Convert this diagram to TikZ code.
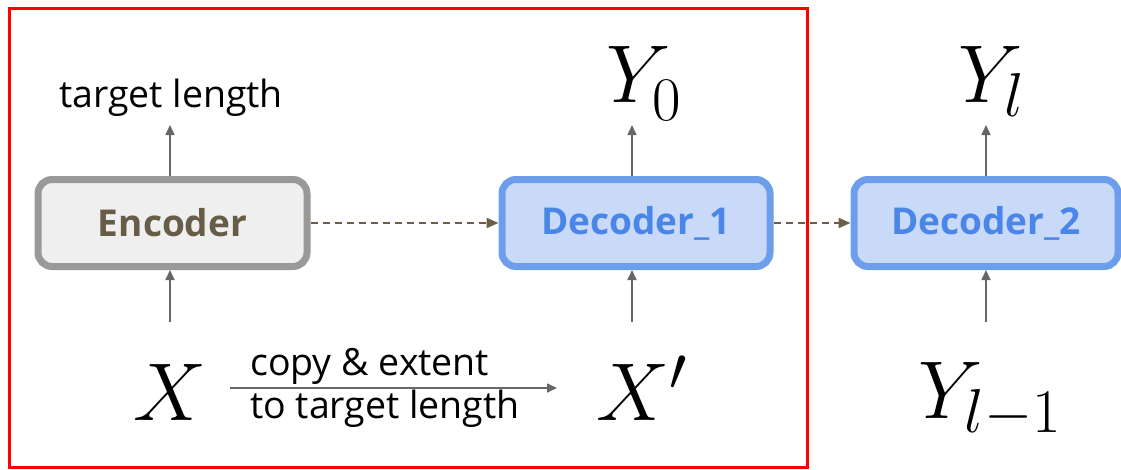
\RequirePackage{fix-cm}
\documentclass[tikz,border=0pt]{standalone}
\usepackage{fontspec}
\setmainfont{Open Sans}
\usetikzlibrary{arrows.meta}
\DeclareMathSizes{82}{82}{62}{48}

\definecolor{frame}{HTML}{FF0000}
\definecolor{encfill}{HTML}{EFEFEF}
\definecolor{encline}{HTML}{999999}
\definecolor{enctext}{HTML}{675C47}
\definecolor{decfill}{HTML}{C9DAF8}
\definecolor{decline}{HTML}{6D9EEB}
\definecolor{dectext}{HTML}{4A86E8}
\definecolor{arrgray}{HTML}{666666}
\definecolor{flowbrown}{HTML}{6B5E47}

\newcommand{\lowsub}[1]{\lower6pt\hbox{$\scriptstyle #1$}}

\tikzset{
  block/.style={rounded corners=14pt, line width=7pt, minimum height=87pt,
    inner sep=0pt, font=\fontsize{37}{40}\selectfont\bfseries},
  encblock/.style={block, draw=encline, fill=encfill, text=enctext},
  decblock/.style={block, draw=decline, fill=decfill, text=dectext},
  plain/.style={inner sep=0pt, font=\fontsize{37.5}{42}\selectfont},
  sym/.style={inner sep=0pt, anchor=base west, font=\fontsize{82}{90}\selectfont},
  uparrow/.style={draw=arrgray, line width=1.6pt,
    -{Triangle[length=10pt,width=9pt]}},
  flow/.style={draw=flowbrown, line width=2pt, dash pattern=on 7pt off 5pt,
    -{Triangle[length=12pt,width=10pt]}}
}

\begin{document}
\begin{tikzpicture}[x=1pt,y=-1pt]
\useasboundingbox (0,0) rectangle (1121,469);

% highlighted region around the first stage
\draw[frame, line width=3pt] (9,8) rectangle (807,467);

% processing blocks
\node[encblock, minimum width=269pt] (enc)  at (172.5,223) {Encoder};
\node[decblock, minimum width=268pt] (dec1) at (636,223) {Decoder\_1};
\node[decblock, minimum width=264pt] (dec2) at (986,223) {Decoder\_2};

% labels above the blocks
\node[plain, anchor=base] (tl) at (171,107) {target length};
\node[sym] (y0) at (606,102) {$Y_{\lowsub{0}}$};
\node[sym] (yl) at (958,102) {$Y_{l}$};

% inputs below the blocks
\node[sym] (x)  at (133,420) {$X$};
\node[sym] (xp) at (596,420) {$X'$};
\node[sym] (ylm) at (918,418) {$Y_{l-1}$};

% text of the copy step
\node[plain, anchor=base west] (cp1) at (250,375) {copy \& extent};
\node[plain, anchor=base west] (cp2) at (250,418) {to target length};

% arrow ends next to the labels
\coordinate (tlTip)  at (170,125);
\coordinate (y0Tip)  at (632,125);
\coordinate (ylTip)  at (986,125);
\coordinate (xTail)  at (170,322);
\coordinate (xpTail) at (632,322);
\coordinate (ylmTail) at (986,322);
\coordinate (cpTail) at (230,388);
\coordinate (cpTip)  at (557,388);

% vertical data flow
\draw[uparrow] (enc.north -| tlTip) -- (tlTip);
\draw[uparrow] (dec1.north -| y0Tip) -- (y0Tip);
\draw[uparrow] (dec2.north -| ylTip) -- (ylTip);
\draw[uparrow] (xTail) -- (enc.south -| xTail);
\draw[uparrow] (xpTail) -- (dec1.south -| xpTail);
\draw[uparrow] (ylmTail) -- (dec2.south -| ylmTail);

% copy & extent step
\draw[uparrow] (cpTail) -- (cpTip);

% state passed between blocks
\draw[flow] (enc.east) -- (dec1.west);
\draw[flow] (dec1.east) -- (dec2.west);
\end{tikzpicture}
\end{document}
